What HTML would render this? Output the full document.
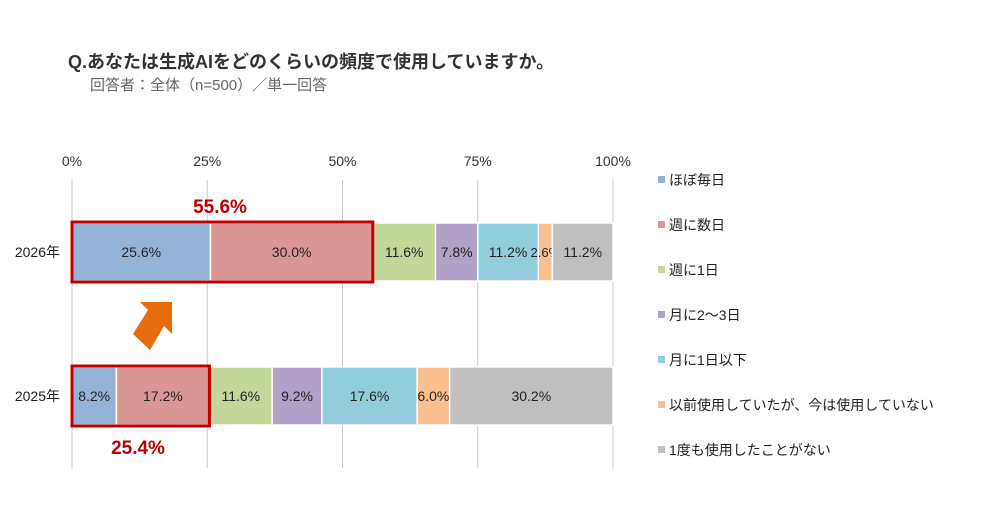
<!DOCTYPE html>
<html><head><meta charset="utf-8"><style>
body{margin:0;background:#fff;}
svg text{font-family:"Liberation Sans","Noto Sans CJK JP",sans-serif;}
</style></head><body>
<svg id="c" width="1000" height="500" viewBox="0 0 1000 500" xmlns="http://www.w3.org/2000/svg">
<text x="68" y="68" font-size="18" font-weight="bold" fill="#333">Q.あなたは生成AIをどのくらいの頻度で使用していますか。</text>
<text x="90" y="90" font-size="15" fill="#666">回答者：全体（n=500）／単一回答</text>
<g id="grid"></g><g id="bars"></g><g id="legend"></g>
<polygon points="133,334 150,350 164,326 172,334 172,302 140,302 148,310" fill="#e46c0a"/>
</svg>
<script>
const years=["2026年","2025年"];
const categories=["ほぼ毎日","週に数日","週に1日","月に2～3日","月に1日以下","以前使用していたが、今は使用していない","1度も使用したことがない"];
const values2026=[25.6,30.0,11.6,7.8,11.2,2.6,11.2];
const values2025=[8.2,17.2,11.6,9.2,17.6,6.0,30.2];
const ticks=[0,25,50,75,100];
const highlights=[55.6,25.4];
const colors=["#95b3d7","#da9694","#c4d79b","#b1a0c7","#92cddc","#fabf8f","#bfbfbf"];
const NS="http://www.w3.org/2000/svg";
const x=v=>72+v*(613-72)/100;
const rowTop=[223,367],barH=58;
function mk(t,a,p){const e=document.createElementNS(NS,t);for(const k in a)e.setAttribute(k,a[k]);p.appendChild(e);return e;}
const grid=document.getElementById('grid'),bars=document.getElementById('bars'),leg=document.getElementById('legend');
ticks.forEach(t=>{
 const l=mk('line',{x1:x(t),x2:x(t),y1:180,y2:468,stroke:'#c8c8c8','stroke-width':1},grid);
 
 
 const tx=mk('text',{x:x(t),y:166,'font-size':14,'text-anchor':'middle',fill:'#333'},grid);
 tx.textContent=t+'%';
 
 
});
[values2026,values2025].forEach((vals,r)=>{
 const yl=mk('text',{x:60,y:rowTop[r]+barH/2+5,'font-size':14,'text-anchor':'end',fill:'#222'},bars);
 yl.textContent=years[r];
 
 
 let acc=0;
 vals.forEach((v,i)=>{
  const rc=mk('rect',{x:x(acc),y:rowTop[r],width:x(acc+v)-x(acc),height:barH,fill:colors[i],stroke:'#fff','stroke-width':1.5},bars);
  
  
  const t=mk('text',{x:(x(acc)+x(acc+v))/2,y:rowTop[r]+barH/2+5,'font-size':v<4?13:14,'text-anchor':'middle',fill:'#222'},bars);
  t.textContent=v.toFixed(1)+'%';
  
  
  acc+=v;
 });
 const hb=mk('rect',{x:x(0),y:rowTop[r]-1,width:x(highlights[r])-x(0),height:barH+2,fill:'none',stroke:'#c00000','stroke-width':3},bars);
 
 
 const ht=mk('text',{x:r==0?220:138,y:r==0?213:454,'font-size':19,'font-weight':'bold','text-anchor':'middle',fill:'#c00000'},bars);
 ht.textContent=highlights[r].toFixed(1)+'%';
 
 
});
categories.forEach((c,i)=>{
 const y=180+i*45;
 const s=mk('rect',{x:658,y:y-4,width:7,height:7,fill:colors[i]},leg);
 
 
 const t=mk('text',{x:669,y:y+5,'font-size':14,fill:'#222'},leg);
 t.textContent=c;
 
 
});
</script>
</body></html>
